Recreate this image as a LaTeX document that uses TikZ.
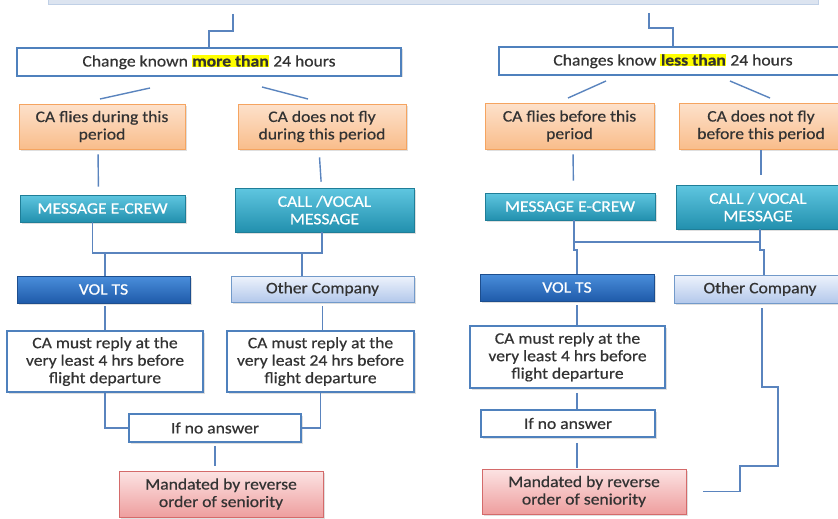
\documentclass[tikz,border=0pt]{standalone}
\usepackage{fontspec}
\setmainfont[FakeStretch=1.1,FakeBold=0.5]{Carlito}
\usetikzlibrary{shadows}
\definecolor{boxblue}{HTML}{4F81BD}
\definecolor{linkblue}{HTML}{5A84BE}
\definecolor{txtgray}{HTML}{333333}
\definecolor{hilite}{HTML}{FFFF00}
\definecolor{peachtop}{HTML}{FDE1CB}
\definecolor{peachbot}{HTML}{F9BD8B}
\definecolor{peachline}{HTML}{F5A460}
\definecolor{tealtop}{HTML}{5FC6E0}
\definecolor{tealbot}{HTML}{2290AE}
\definecolor{tealline}{HTML}{1F7E98}
\definecolor{voltop}{HTML}{4A8EDB}
\definecolor{volbot}{HTML}{1F5BAA}
\definecolor{volline}{HTML}{1D4E8E}
\definecolor{othtop}{HTML}{EEF3FC}
\definecolor{othbot}{HTML}{B3C8EB}
\definecolor{rosetop}{HTML}{FCE3E3}
\definecolor{rosebot}{HTML}{EE9E9E}
\definecolor{roseline}{HTML}{D46A6A}
\definecolor{banner}{HTML}{DCE4F0}
\newcommand{\hl}[1]{{\setlength{\fboxsep}{0.5pt}\colorbox{hilite}{\textbf{#1}}}}
\begin{document}
\begin{tikzpicture}
[x=1pt,y=-1pt,font=\fontsize{16}{17.5}\selectfont,
  basebox/.style={shape=rectangle,align=center,inner sep=2pt,text=txtgray,
    drop shadow={shadow xshift=1.5pt,shadow yshift=-1.5pt,opacity=0.25}},
  whitebox/.style={basebox,draw=boxblue,line width=1.8pt,fill=white},
  orangebox/.style={basebox,draw=peachline,line width=0.6pt,
    top color=peachtop,bottom color=peachbot},
  tealbox/.style={basebox,draw=tealline,line width=0.6pt,text=white,
    top color=tealtop,bottom color=tealbot},
  voltsbox/.style={basebox,draw=volline,line width=0.6pt,text=white,
    top color=voltop,bottom color=volbot},
  otherbox/.style={basebox,draw=boxblue!80!white,line width=0.8pt,
    top color=othtop,bottom color=othbot},
  redbox/.style={basebox,draw=roseline,line width=0.8pt,
    top color=rosetop,bottom color=rosebot},
  conn/.style={-,draw=linkblue,line width=1.4pt}]
\useasboundingbox (0,0) rectangle (838,519);
% banner cut off at the top
\fill[fill=banner,draw=banner!80!boxblue] (48,-5) rectangle (818,4);
% left branch
\node (more) at (209,62) [whitebox,minimum width=384pt,minimum height=28pt]
  {Change known \hl{more than} 24 hours};
\node (fly1) at (102,126.5) [orangebox,minimum width=166pt,minimum height=45pt]
  {CA flies during this\\period};
\node (nofly1) at (322,126.5) [orangebox,minimum width=168pt,minimum height=45pt]
  {CA does not fly\\during this period};
\node (mail1) at (102.5,208.5) [tealbox,minimum width=165pt,minimum height=27pt]
  {MESSAGE E-CREW};
\node (call1) at (324.5,210) [tealbox,minimum width=179pt,minimum height=44pt]
  {CALL /VOCAL\\MESSAGE};
\node (volts1) at (103.5,289.5) [voltsbox,minimum width=173pt,minimum height=27pt]
  {VOL TS};
\node (other1) at (322.5,289) [otherbox,minimum width=183pt,minimum height=26pt]
  {Other Company};
\node (reply1) at (105,361.5) [whitebox,minimum width=196pt,minimum height=61pt]
  {CA must reply at the\\very least 4 hrs before\\flight departure};
\node (reply2) at (320.5,361.5) [whitebox,minimum width=187pt,minimum height=61pt]
  {CA must reply at the\\very least 24 hrs before\\flight departure};
\node (noans1) at (215,428) [whitebox,minimum width=172pt,minimum height=28pt]
  {If no answer};
\node (mand1) at (221,494) [redbox,minimum width=204pt,minimum height=46pt]
  {Mandated by reverse\\order of seniority};
% right branch
\node (less) at (673,61) [whitebox,minimum width=348pt,minimum height=28pt]
  {Changes know \hl{less than} 24 hours};
\node (fly2) at (569.5,126) [orangebox,minimum width=169pt,minimum height=46pt]
  {CA flies before this\\period};
\node (nofly2) at (761,126) [orangebox,minimum width=164pt,minimum height=46pt]
  {CA does not fly\\before this period};
\node (mail2) at (570,206.5) [tealbox,minimum width=170pt,minimum height=27pt]
  {MESSAGE E-CREW};
\node (call2) at (758,207) [tealbox,minimum width=164pt,minimum height=44pt]
  {CALL / VOCAL\\MESSAGE};
\node (volts2) at (567,287.5) [voltsbox,minimum width=174pt,minimum height=27pt]
  {VOL TS};
\node (other2) at (760,289) [otherbox,minimum width=172pt,minimum height=28pt]
  {Other Company};
\node (reply3) at (567.5,357) [whitebox,minimum width=195pt,minimum height=62pt]
  {CA must reply at the\\very least 4 hrs before\\flight departure};
\node (noans2) at (568,423.5) [whitebox,minimum width=174pt,minimum height=27pt]
  {If no answer};
\node (mand2) at (584,491.5) [redbox,minimum width=204pt,minimum height=45pt]
  {Mandated by reverse\\order of seniority};
% free ends and bends
\coordinate (topl) at (233,14);
\coordinate (topr) at (649,13);
\coordinate (d1a) at (150,88);
\coordinate (d1b) at (100,99);
\coordinate (d2a) at (262,87);
\coordinate (d2b) at (308,99);
\coordinate (d3a) at (606,81);
\coordinate (d3b) at (568,98);
\coordinate (d4a) at (730,81);
\coordinate (d4b) at (770,98);
\coordinate (jl) at (105,253);
\coordinate (jr) at (302,253);
\coordinate (jm) at (574,242);
\coordinate (kv) at (577,250);
\coordinate (kc) at (764,250);
\coordinate (e1) at (778,387);
\coordinate (e2) at (740,466);
% edges or lines
\draw[conn] (topl) |- (221,31) -| (more.north);
\draw[conn] (topr) |- (664,28) -| (less.north);
\path
(d1a) edge[conn] (d1b)
(d2a) edge[conn] (d2b)
(d3a) edge[conn] (d3b)
(d4a) edge[conn] (d4b)
([xshift=-4pt]fly1.south) edge[conn,shorten <=5pt,shorten >=8pt] ([xshift=-4pt]mail1.north)
([xshift=-3pt]nofly1.south) edge[conn,shorten <=8pt,shorten >=6pt] ([xshift=-3pt]call1.north)
([xshift=3.5pt]fly2.south) edge[conn,shorten <=5pt,shorten >=12pt] ([xshift=3.5pt]mail2.north)
(nofly2.south) edge[conn,shorten <=1pt,shorten >=10pt] (nofly2.south |- call2.north)
(jl |- volts1.south) edge[conn,shorten <=3pt] (jl |- reply1.north)
(other1.south) edge[conn,shorten <=4pt] (other1.south |- reply2.north)
(noans1.south) edge[conn,shorten <=3pt,shorten >=5pt] (noans1.south |- mand1.north)
(kv |- volts2.south) edge[conn,shorten <=4pt] (kv |- reply3.north)
(kv |- reply3.south) edge[conn,shorten <=4pt] (kv |- noans2.north)
(kv |- noans2.south) edge[conn,shorten <=5pt,shorten >=1pt] (kv |- mand2.north);
\draw[conn] ([xshift=-10pt]mail1.south) |- (jl) -- (jl |- volts1.north);
\draw[conn] ([xshift=-2.5pt]call1.south) |- (jl);
\draw[conn] (jr) -- (jr |- other1.north);
\draw[conn] (jm |- mail2.south) -- (jm) -| ([xshift=2pt]call2.south);
\draw[conn] (jm) |- (kv) -- (kv |- volts2.north);
\draw[conn] ([xshift=2pt]call2.south |- jm) |- (kc) -- (kc |- other2.north);
\draw[conn] (reply1.south) |- (noans1.west);
\draw[conn] (reply2.south) |- (noans1.east);
\draw[conn] ([shift={(2,5)}]other2.south) |- (e1) |- (e2) |- ([xshift=17pt]mand2.east);
\end{tikzpicture}
\end{document}
